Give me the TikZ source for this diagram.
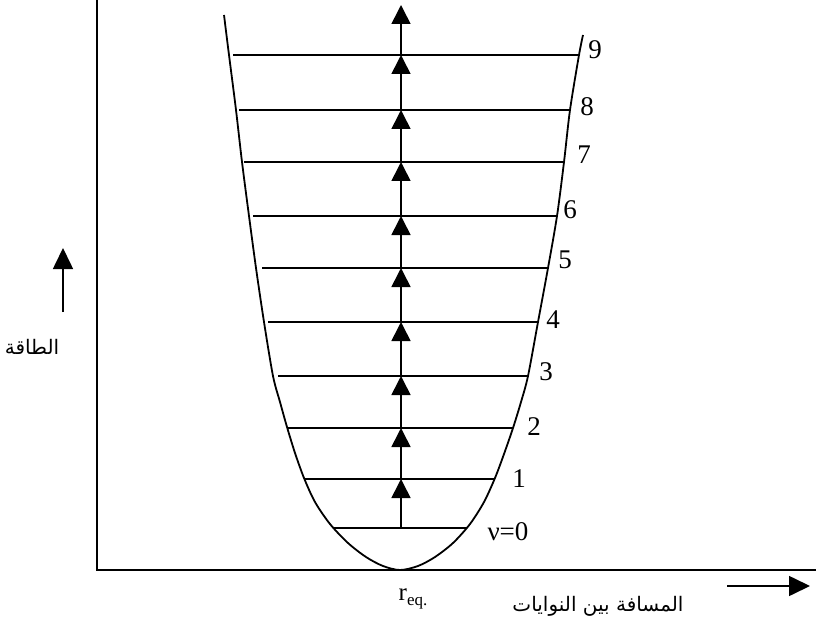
\documentclass[tikz,border=0pt]{standalone}
\usepackage{fontspec}
\setmainfont{Liberation Serif}
\newfontfamily\arabicfont[Script=Arabic]{DejaVu Sans}
\TeXXeTstate=1
\usetikzlibrary{arrows.meta}
\definecolor{tinte}{HTML}{000000}
\tikzset{
  ax/.style={tinte,line width=1.8pt},
  axpfeil/.style={-{Triangle[length=21pt,width=20pt]},tinte,line width=1.6pt},
  kurve/.style={tinte,line width=1.8pt},
  niveau/.style={tinte,line width=1.8pt},
  pfeil/.style={-{Triangle[length=19pt,width=19pt]},tinte,line width=1.6pt},
  zahl/.style={font=\fontsize{27}{30}\selectfont,inner sep=0pt},
  arab/.style={font=\fontsize{20}{24}\selectfont\arabicfont,inner sep=0pt},
}

\begin{document}
\begin{tikzpicture}[x=1pt,y=-1pt]
  \useasboundingbox (0,0) rectangle (816,639);
  % Achsen
  \draw[ax] (97,0)--(97,570)--(816,570);
  \coordinate (eu) at (63,312);
  \coordinate (eo) at (63,248);
  \draw[axpfeil] (eu)--(eo);
  \coordinate (dl) at (727,586);
  \coordinate (dr) at (810,586);
  \draw[axpfeil] (dl)--(dr);
  \node[arab] (energie) at (32,347) {\beginR الطاقة\endR};
  \node[arab] (abstand) at (598,606) {\beginR المسافة بين النوايات\endR};
  % Potentialkurve
  \draw[kurve] plot[smooth] coordinates {(224,15) (229,55) (236,110) (242,162)
    (249,216) (256,268) (264,322) (273,376) (280,402) (287,427) (295,453)
    (304,478) (315,502) (330,524) (348,543) (366,557) (383,566) (400,570)
    (418,566) (435,557) (453,543) (470,524) (484,502) (495,478) (504,454)
    (513,428) (521,402) (528,376) (538,322) (548,268) (557,216) (564,162)
    (570,110) (579,55) (583,35)};
  % Schwingungsniveaus
  \draw[niveau] (334,528)--(467,528);
  \draw[niveau] (305,479)--(495,479);
  \draw[niveau] (288,428)--(513,428);
  \draw[niveau] (278,376)--(528,376);
  \draw[niveau] (268,322)--(538,322);
  \draw[niveau] (262,268)--(548,268);
  \draw[niveau] (253,216)--(557,216);
  \draw[niveau] (244,162)--(564,162);
  \draw[niveau] (239,110)--(570,110);
  \draw[niveau] (233,55)--(579,55);
  \coordinate (m0) at (401,528);
  \coordinate (m1) at (401,479);
  \coordinate (m2) at (401,428);
  \coordinate (m3) at (401,376);
  \coordinate (m4) at (401,322);
  \coordinate (m5) at (401,268);
  \coordinate (m6) at (401,216);
  \coordinate (m7) at (401,162);
  \coordinate (m8) at (401,110);
  \coordinate (m9) at (401,55);
  \coordinate (mo) at (401,5);
  \draw[pfeil] (m0)--(m1);
  \draw[pfeil] (m1)--(m2);
  \draw[pfeil] (m2)--(m3);
  \draw[pfeil] (m3)--(m4);
  \draw[pfeil] (m4)--(m5);
  \draw[pfeil] (m5)--(m6);
  \draw[pfeil] (m6)--(m7);
  \draw[pfeil] (m7)--(m8);
  \draw[pfeil] (m8)--(m9);
  \draw[pfeil] (m9)--(mo);
  % Quantenzahlen
  \node[zahl] (v0) at (508,532) {ν=0};
  \node[zahl] (v1) at (519,479) {1};
  \node[zahl] (v2) at (534,427) {2};
  \node[zahl] (v3) at (546,372) {3};
  \node[zahl] (v4) at (553,320) {4};
  \node[zahl] (v5) at (565,260) {5};
  \node[zahl] (v6) at (570,210) {6};
  \node[zahl] (v7) at (584,155) {7};
  \node[zahl] (v8) at (587,107) {8};
  \node[zahl] (v9) at (595,50) {9};
  \node[font=\fontsize{25}{28}\selectfont,inner sep=0pt] (req) at (413,599)
    {r{\fontsize{17}{17}\selectfont\raisebox{-5pt}{eq.}}};
\end{tikzpicture}
\end{document}
